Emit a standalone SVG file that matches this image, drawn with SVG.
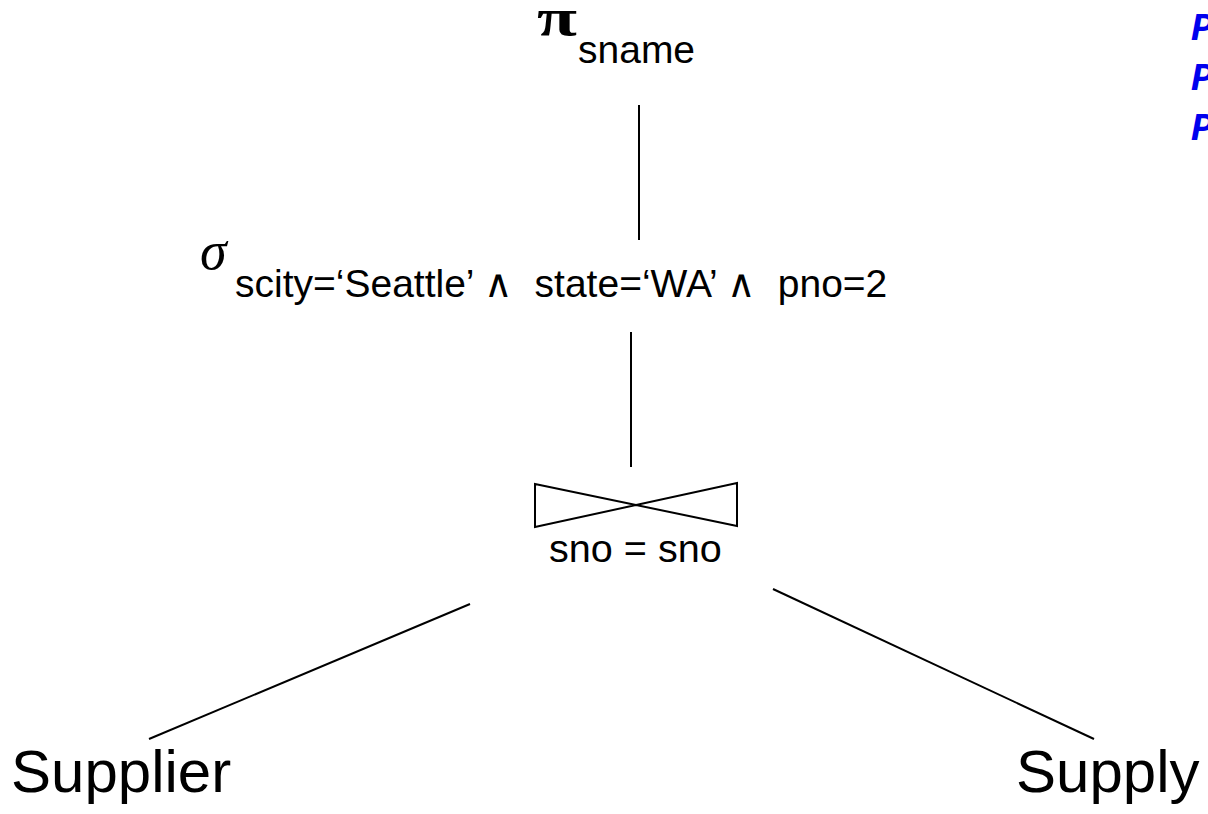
<svg xmlns="http://www.w3.org/2000/svg" width="1208" height="814" viewBox="0 0 1208 814">
<style>
.t{font-family:"Liberation Sans",Arial,sans-serif;fill:#000}
.sub{font-size:39px}
.big{font-size:60px}
.sym{font-family:"Liberation Serif","Times New Roman",serif;fill:#000}
.edge{stroke:#000;stroke-width:2;fill:none}
.blue{font-family:"Liberation Mono","Courier New",monospace;font-weight:bold;font-style:italic;font-size:38px;fill:#0000ee}
</style>
<rect width="1208" height="814" fill="#fff"/>
<g id="connectors">
<line class="edge" x1="639" y1="105" x2="639" y2="240"/>
<line class="edge" x1="631" y1="332" x2="631" y2="467"/>
<line class="edge" x1="470" y1="604" x2="149" y2="739"/>
<line class="edge" x1="773" y1="589" x2="1094" y2="739"/>
</g>
<g id="project">
<text class="sym" x="537" y="35" font-size="52" font-weight="bold" textLength="40" lengthAdjust="spacingAndGlyphs">π</text>
<text class="t sub" x="578" y="63">sname</text>
</g>
<g id="select">
<text class="sym" x="200" y="269" font-size="54" font-style="italic">σ</text>
<text class="t sub" x="235" y="297" xml:space="preserve">scity=‘Seattle’ ∧  state=‘WA’ ∧  pno=2</text>
</g>
<g id="join">
<path class="edge" d="M535 484 L737 526 L737 483 L535 527 Z" stroke-linejoin="miter"/>
<text class="t" x="549" y="562" font-size="39.6">sno = sno</text>
</g>
<g id="supplier">
<text class="t big" x="11" y="792">Supplier</text>
</g>
<g id="supply">
<text class="t big" x="1016" y="792">Supply</text>
</g>
<g id="side">
<text class="blue" x="1191" y="40">P</text>
<text class="blue" x="1191" y="90">P</text>
<text class="blue" x="1191" y="140">P</text>
</g>
</svg>
